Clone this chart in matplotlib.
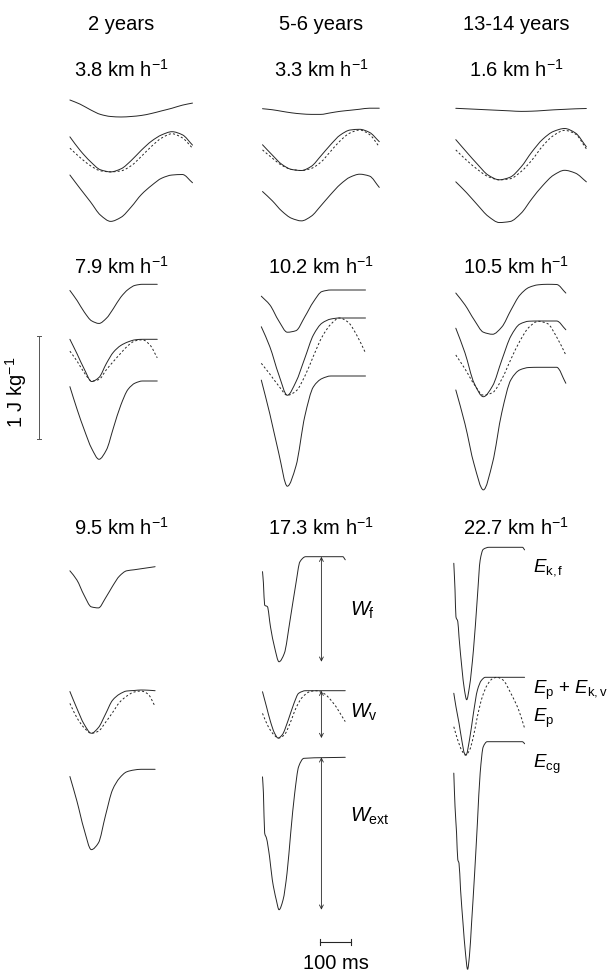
import matplotlib
matplotlib.use("Agg")
import matplotlib.pyplot as plt
from matplotlib.path import Path
from matplotlib.patches import PathPatch
import numpy as np

plt.rcParams['font.family'] = ['Liberation Sans', 'DejaVu Sans']
plt.rcParams['mathtext.fontset'] = 'custom'
plt.rcParams['mathtext.rm'] = 'Liberation Sans'
plt.rcParams['mathtext.it'] = 'Liberation Sans:italic'

# Mechanical energy traces of the centre of mass during one step (J kg-1 vs ms).
# ekf: forward kinetic, epv: potential + vertical kinetic, ep: potential, ecg: total.
# Each trace is given relative to its own maximum.

ages = ['2 years', '5-6 years', '13-14 years']
speeds = [['3.8', '3.3', '1.6'], ['7.9', '10.2', '10.5'], ['9.5', '17.3', '22.7']]

# --- slow walking ---
t_2y_38 = [0, 33, 67, 100, 133, 167, 200, 233, 267, 300, 333, 367, 400]
ekf_2y_38 = [0, -0.04, -0.095, -0.14, -0.16, -0.165, -0.16, -0.15, -0.13, -0.105, -0.08, -0.05, -0.03]
epv_2y_38 = [-0.05, -0.18, -0.29, -0.37, -0.39, -0.36, -0.28, -0.18, -0.09, -0.03, 0.0, -0.03, -0.13]
ep_2y_38 = [-0.16, -0.25, -0.33, -0.38, -0.39, -0.38, -0.33, -0.24, -0.14, -0.06, -0.02, -0.06, -0.16]
ecg_2y_38 = [-0.01, -0.14, -0.27, -0.40, -0.46, -0.42, -0.32, -0.20, -0.11, -0.04, -0.01, -0.005, -0.085]

t_5y_33 = [0, 32, 63, 95, 127, 159, 190, 222, 254, 286, 317, 349, 381]
ekf_5y_33 = [-0.005, -0.015, -0.03, -0.045, -0.055, -0.06, -0.06, -0.045, -0.03, -0.02, -0.01, 0, 0]
epv_5y_33 = [-0.15, -0.25, -0.34, -0.39, -0.40, -0.36, -0.26, -0.15, -0.055, -0.007, 0.0, -0.03, -0.12]
ep_5y_33 = [-0.20, -0.28, -0.35, -0.39, -0.40, -0.38, -0.32, -0.215, -0.11, -0.035, -0.007, -0.05, -0.17]
ecg_5y_33 = [-0.17, -0.26, -0.36, -0.43, -0.455, -0.41, -0.31, -0.20, -0.10, -0.03, -0.002, -0.02, -0.13]

t_13y_16 = [0, 35, 71, 106, 142, 177, 213, 248, 284, 319, 355, 390, 426]
ekf_13y_16 = [0, -0.005, -0.01, -0.015, -0.02, -0.025, -0.03, -0.028, -0.022, -0.015, -0.01, -0.005, -0.002]
epv_13y_16 = [-0.11, -0.23, -0.35, -0.455, -0.50, -0.475, -0.375, -0.23, -0.105, -0.03, -0.002, -0.045, -0.18]
ep_13y_16 = [-0.21, -0.31, -0.40, -0.47, -0.50, -0.49, -0.42, -0.31, -0.17, -0.07, -0.02, -0.055, -0.2]
ecg_13y_16 = [-0.115, -0.22, -0.34, -0.45, -0.51, -0.50, -0.42, -0.28, -0.15, -0.05, -0.003, -0.03, -0.115]

# --- intermediate running ---
t_2y_79 = [0, 24, 47, 71, 95, 119, 142, 166, 190, 213, 237, 261, 285]
ekf_2y_79 = [-0.06, -0.16, -0.27, -0.355, -0.38, -0.33, -0.235, -0.125, -0.05, -0.01, 0, 0, 0]
epv_2y_79 = [0, -0.145, -0.29, -0.41, -0.37, -0.235, -0.125, -0.06, -0.025, -0.005, 0, 0, 0]
ep_2y_79 = [-0.115, -0.215, -0.325, -0.405, -0.39, -0.295, -0.215, -0.135, -0.06, -0.015, -0.005, -0.055, -0.18]
ecg_2y_79 = [-0.055, -0.28, -0.475, -0.655, -0.76, -0.67, -0.455, -0.235, -0.08, -0.02, 0, 0, 0]

t_5y_102 = [0, 28, 57, 85, 113, 142, 170, 198, 227, 255, 283, 312, 340]
ekf_5y_102 = [-0.06, -0.145, -0.30, -0.41, -0.395, -0.26, -0.115, -0.015, 0, 0, 0, 0, 0]
epv_5y_102 = [-0.085, -0.28, -0.55, -0.75, -0.62, -0.39, -0.165, -0.05, -0.01, 0, 0, 0, 0]
ep_5y_102 = [-0.44, -0.545, -0.66, -0.75, -0.71, -0.565, -0.37, -0.185, -0.06, 0, -0.04, -0.17, -0.34]
ecg_5y_102 = [-0.04, -0.37, -0.75, -1.07, -0.875, -0.39, -0.105, -0.025, 0, 0, 0, 0, 0]

t_13y_105 = [0, 30, 60, 90, 120, 150, 180, 209, 239, 269, 299, 329, 359]
ekf_13y_105 = [-0.085, -0.20, -0.345, -0.465, -0.485, -0.415, -0.25, -0.105, -0.03, -0.005, 0, -0.002, -0.085]
epv_13y_105 = [-0.07, -0.31, -0.605, -0.735, -0.63, -0.38, -0.145, -0.03, -0.002, 0, 0, 0, -0.085]
ep_13y_105 = [-0.33, -0.465, -0.615, -0.72, -0.695, -0.565, -0.37, -0.195, -0.06, -0.003, -0.025, -0.155, -0.33]
ecg_13y_105 = [-0.22, -0.55, -0.945, -1.19, -0.925, -0.44, -0.12, -0.025, -0.002, 0, 0, 0, -0.155]

# --- fast running ---
t_2y_95 = [0, 23, 46, 70, 93, 116, 139, 162, 185, 209, 232, 255, 278]
ekf_2y_95 = [-0.04, -0.13, -0.275, -0.39, -0.40, -0.305, -0.19, -0.09, -0.04, -0.03, -0.02, -0.01, 0]
epv_2y_95 = [-0.015, -0.18, -0.33, -0.42, -0.365, -0.235, -0.1, -0.04, -0.01, -0.005, 0, -0.002, -0.007]
ep_2y_95 = [-0.13, -0.27, -0.365, -0.42, -0.40, -0.315, -0.22, -0.12, -0.06, -0.02, -0.01, -0.04, -0.16]
ecg_2y_95 = [-0.07, -0.31, -0.58, -0.78, -0.715, -0.45, -0.20, -0.085, -0.025, -0.007, 0, 0, 0]

t_ekf_5y_173 = [0, 3, 7, 16, 26, 39, 54, 71, 90, 109, 122, 141, 262, 270]
ekf_5y_173 = [-0.145, -0.255, -0.47, -0.485, -0.68, -0.875, -1.02, -0.94, -0.615, -0.26, -0.05, 0, 0, -0.03]
t_epv_5y_173 = [0, 13, 26, 39, 51, 64, 84, 103, 118, 141, 270]
epv_5y_173 = [-0.01, -0.155, -0.30, -0.41, -0.46, -0.43, -0.285, -0.12, -0.025, 0, 0]
t_ep_5y_173 = [0, 19, 38, 52, 71, 90, 109, 128, 154, 173, 199, 231, 270]
ep_5y_173 = [-0.22, -0.35, -0.43, -0.46, -0.43, -0.315, -0.17, -0.07, -0.01, 0, -0.025, -0.12, -0.3]
t_ecg_5y_173 = [0, 3, 7, 13, 23, 32, 45, 54, 67, 80, 92, 105, 118, 135, 270]
ecg_5y_173 = [-0.19, -0.345, -0.735, -0.785, -0.965, -1.19, -1.385, -1.48, -1.385, -1.125, -0.735, -0.35, -0.09, -0.01, 0]

t_ekf_13y_227 = [0, 4, 7, 13, 17, 26, 35, 42, 51, 64, 77, 86, 96, 115, 224, 231]
ekf_13y_227 = [-0.155, -0.415, -0.675, -0.72, -0.87, -1.16, -1.39, -1.48, -1.355, -1.0, -0.48, -0.125, -0.02, 0, 0, -0.025]
t_epv_13y_227 = [0, 7, 17, 26, 35, 40, 51, 64, 77, 90, 103, 231]
epv_13y_227 = [-0.155, -0.285, -0.445, -0.61, -0.74, -0.755, -0.61, -0.35, -0.125, -0.03, 0, 0]
t_ep_13y_227 = [0, 13, 26, 38, 51, 64, 77, 93, 109, 128, 141, 160, 186, 212, 231]
ep_13y_227 = [-0.48, -0.61, -0.71, -0.755, -0.71, -0.575, -0.38, -0.19, -0.075, -0.01, 0, -0.025, -0.155, -0.32, -0.495]
t_ecg_13y_227 = [0, 4, 9, 13, 17, 22, 30, 38, 45, 51, 58, 68, 77, 86, 96, 109, 224, 231]
ecg_13y_227 = [-0.305, -0.63, -0.885, -1.145, -1.18, -1.435, -1.76, -2.05, -2.21, -2.08, -1.76, -1.275, -0.79, -0.305, -0.05, 0, 0, -0.02]

# scale of the drawing
W, H = 616, 973
PX_PER_MS = 0.3065
PX_PER_J = 103.0


def tx(x_px):
    return x_px / PX_PER_MS


def ey(y_px):
    return -y_px / PX_PER_J


def trace_path(x, y):
    # cubic Bezier through the samples, monotone tangents so nothing overshoots
    x = np.asarray(x, float)
    y = np.asarray(y, float)
    h = np.diff(x)
    d = np.diff(y) / h
    m = np.zeros(len(x))
    m[0], m[-1] = d[0], d[-1]
    for k in range(1, len(x) - 1):
        if d[k - 1] * d[k] > 0:
            w1 = 2 * h[k] + h[k - 1]
            w2 = h[k] + 2 * h[k - 1]
            m[k] = (w1 + w2) / (w1 / d[k - 1] + w2 / d[k])
    verts = [(x[0], y[0])]
    codes = [Path.MOVETO]
    for i in range(len(x) - 1):
        verts += [(x[i] + h[i] / 3, y[i] + m[i] * h[i] / 3),
                  (x[i + 1] - h[i] / 3, y[i + 1] - m[i + 1] * h[i] / 3),
                  (x[i + 1], y[i + 1])]
        codes += [Path.CURVE4] * 3
    return Path(verts, codes)


fig = plt.figure(figsize=(W / 100, H / 100), dpi=100)
ax = fig.add_axes([0, 0, 1, 1])
ax.set_xlim(0, tx(W))
ax.set_ylim(ey(H), 0)
ax.axis('off')

# (times, values) per trace, plus panel left edge and top of each trace in px
panels = [
    # row 1
    (69.9, [(t_2y_38, ekf_2y_38, 100), (t_2y_38, epv_2y_38, 131.7), (t_2y_38, ecg_2y_38, 174)], (t_2y_38, ep_2y_38)),
    (262.5, [(t_5y_33, ekf_5y_33, 108.2), (t_5y_33, epv_5y_33, 129.3), (t_5y_33, ecg_5y_33, 174)], (t_5y_33, ep_5y_33)),
    (455.8, [(t_13y_16, ekf_13y_16, 108.3), (t_13y_16, epv_13y_16, 128.3), (t_13y_16, ecg_13y_16, 170)], (t_13y_16, ep_13y_16)),
    # row 2
    (69.9, [(t_2y_79, ekf_2y_79, 284.3), (t_2y_79, epv_2y_79, 339.3), (t_2y_79, ecg_2y_79, 381)], (t_2y_79, ep_2y_79)),
    (261.3, [(t_5y_102, ekf_5y_102, 290), (t_5y_102, epv_5y_102, 318), (t_5y_102, ecg_5y_102, 376)], (t_5y_102, ep_5y_102)),
    (455.8, [(t_13y_105, ekf_13y_105, 284.3), (t_13y_105, epv_13y_105, 321), (t_13y_105, ecg_13y_105, 367.3)], (t_13y_105, ep_13y_105)),
    # row 3
    (69.9, [(t_2y_95, ekf_2y_95, 566.7), (t_2y_95, epv_2y_95, 690), (t_2y_95, ecg_2y_95, 769.3)], (t_2y_95, ep_2y_95)),
    (262.5, [(t_ekf_5y_173, ekf_5y_173, 556.7), (t_epv_5y_173, epv_5y_173, 690.7), (t_ecg_5y_173, ecg_5y_173, 757.3)], (t_ep_5y_173, ep_5y_173)),
    (453.8, [(t_ekf_13y_227, ekf_13y_227, 547.3), (t_epv_13y_227, epv_13y_227, 677.3), (t_ecg_13y_227, ecg_13y_227, 741.7)], (t_ep_13y_227, ep_13y_227)),
]

ink = '#262626'
for x0, traces, dashed in panels:
    t0 = tx(x0)
    for t, e, top in traces:
        p = trace_path(np.array(t) + t0, np.array(e) + ey(top))
        ax.add_patch(PathPatch(p, fill=False, edgecolor=ink, lw=0.7, capstyle='round'))
    # potential energy shares the reference of the E_p + E_k,v trace
    td, ed = dashed
    p = trace_path(np.array(td) + t0, np.array(ed) + ey(traces[1][2]))
    ax.add_patch(PathPatch(p, fill=False, edgecolor=ink, lw=0.7, linestyle=(0, (2.2, 2.2))))

# column and speed labels
fs = 14.5
col_x = [121, 321, 516]
for x, a in zip(col_x, ages):
    ax.text(tx(x), ey(24), a, ha='center', va='center', fontsize=fs)
row_y = [70, 267, 528]
for y, row in zip(row_y, speeds):
    for x, s in zip(col_x, row):
        ax.text(tx(x), ey(y), s + r' km h$^{-1}$', ha='center', va='center', fontsize=fs)

# work arrows on the 17.3 km/h panel
x_arrow = tx(321.4)
arrow_kw = dict(arrowstyle='<->', lw=0.6, color=ink, mutation_scale=7, shrinkA=0, shrinkB=0)
for e, top, lab, ylab in [(ekf_5y_173, 556.7, r'$W_{\mathrm{f}}$', 610),
                          (epv_5y_173, 690.7, r'$W_{\mathrm{v}}$', 712),
                          (ecg_5y_173, 757.3, r'$W_{\mathrm{ext}}$', 816)]:
    ax.annotate('', xy=(x_arrow, ey(top)), xytext=(x_arrow, ey(top) + min(e)), arrowprops=arrow_kw)
    ax.text(tx(349.7), ey(ylab), lab, ha='left', va='center', fontsize=fs)

# trace names next to the 22.7 km/h panel
for lab, y in [(r'$E_{\mathrm{k,f}}$', 568), (r'$E_{\mathrm{p}}$ + $E_{\mathrm{k,v}}$', 690),
               (r'$E_{\mathrm{p}}$', 718), (r'$E_{\mathrm{cg}}$', 764)]:
    ax.text(tx(533), ey(y), lab, ha='left', va='center', fontsize=13.5)

# energy scale bar: 1 J/kg
xb = tx(38.5)
yb = ey(336)
ax.plot([xb, xb], [yb, yb - 1.0], color='#555555', lw=0.7)
for yy in (yb, yb - 1.0):
    ax.plot([xb - tx(2), xb + tx(2)], [yy, yy], color='#555555', lw=0.7)
ax.text(tx(15.7), ey(392), r'1 J kg$^{-1}$', rotation=90, ha='center', va='center', fontsize=fs)

# time scale bar: 100 ms
x1 = tx(320.2)
yt = ey(941.7)
ax.plot([x1, x1 + 100], [yt, yt], color=ink, lw=0.8)
for xx in (x1, x1 + 100):
    ax.plot([xx, xx], [yt - 3 / PX_PER_J, yt + 3 / PX_PER_J], color=ink, lw=0.8)
ax.text(x1 + 50, ey(964), '100 ms', ha='center', va='center', fontsize=fs)

fig.savefig('out.png', dpi=100, facecolor='white')
